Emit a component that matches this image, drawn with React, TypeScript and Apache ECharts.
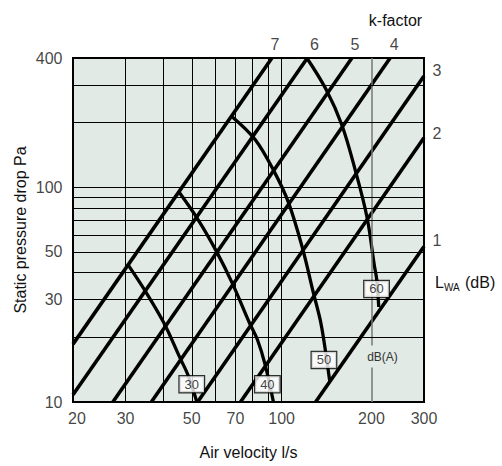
import { useEffect, useRef } from 'react';
import * as echarts from 'echarts';

// Axis ticks and grid values (log-log chart)
const xTickValues = [20, 30, 50, 70, 100, 200, 300];
const yTickValues = [10, 30, 50, 100, 400];
const xGridValues = [30, 40, 50, 60, 70, 80, 90, 100, 200];
const yGridValues = [20, 30, 40, 50, 60, 70, 80, 90, 100, 200, 300];

// k-factor lines: start and end points (air flow l/s, pressure drop Pa)
const kNames = ['1', '2', '3', '4', '5', '6', '7'];
const kStartFlow = [130, 72.8, 52.3, 36.6, 27.2, 20, 20];
const kStartDrop = [10, 10, 10, 10, 10, 10.8, 18.6];
const kEndFlow = [300, 300, 300, 231, 172, 122, 92.8];
const kEndDrop = [53, 170, 330, 400, 400, 400, 400];

// Sound power level curves, dB(A)
const soundLevels = [30, 40, 50, 60];
const curve30 = [[30.6, 43.5], [35.3, 32.1], [40.5, 23.1], [45.7, 16.0], [48.5, 13.4], [52, 10]];
const curve40 = [[45.5, 94.3], [52.6, 70.4], [60.3, 50.7], [68.4, 35.7], [78, 23.4], [83, 19.5], [88.1, 14.9], [93.9, 10]];
const curve50 = [[68.4, 212.7], [81.5, 167], [93.9, 120.2], [105.4, 85.1], [117.5, 52], [127.9, 32.1], [134.7, 24.1], [139, 18.8], [145, 12.5]];
const curve60 = [[121.5, 400], [141, 285.2], [159.3, 194.6], [176.5, 120.2], [193.2, 72.7], [204.4, 43.5], [208.4, 37], [211.6, 27.7]];
const soundCurves = [curve30, curve40, curve50, curve60];
const soundLabelFlow = [50, 89.6, 138.6, 208];
const soundLabelDrop = [12.1, 12.1, 15.7, 33.6];

const FONT = '"Liberation Sans", Arial, Helvetica, sans-serif';
const PLOT_BG = '#e1eae4';

export default function App() {
  const ref = useRef<HTMLDivElement>(null);

  useEffect(() => {
    document.body.style.margin = '0';
    if (!ref.current) return;
    const chart = echarts.init(ref.current, null, { renderer: 'svg' });

    const kLineSeries = kNames.map((name, i) => ({
      type: 'line',
      name: 'k' + name,
      data: [
        [kStartFlow[i], kStartDrop[i]],
        [kEndFlow[i], kEndDrop[i]],
      ],
      showSymbol: false,
      symbol: 'none',
      silent: true,
      z: 3,
      lineStyle: { color: '#000', width: 3.6, cap: 'butt' },
    }));

    const curveSeries = soundCurves.map((pts, i) => ({
      type: 'line',
      name: 'L' + soundLevels[i],
      data: pts,
      smooth: 0.35,
      showSymbol: false,
      symbol: 'none',
      silent: true,
      z: 3,
      lineStyle: { color: '#000', width: 3.3 },
    }));

    const rightOffsets = [-6, -4, -5];
    const topOffsets = [4, 3, 7, 3];
    const kLabelData = kNames.map((name, i) => {
      const isRight = i < 3;
      return {
        name,
        value: [kEndFlow[i], kEndDrop[i]],
        label: isRight
          ? { position: 'right', distance: 8, offset: [0, rightOffsets[i]] }
          : { position: 'top', distance: 5, offset: [topOffsets[i - 3], 0] },
      };
    });

    const option = {
      animation: false,
      grid: {
        left: 73,
        top: 58,
        width: 351,
        height: 344,
        show: true,
        backgroundColor: PLOT_BG,
        borderColor: '#000',
        borderWidth: 2,
      },
      xAxis: {
        type: 'log',
        logBase: 10,
        min: 20,
        max: 300,
        name: 'Air velocity l/s',
        nameLocation: 'middle',
        nameGap: 42,
        nameTextStyle: { fontSize: 16, color: '#111', fontFamily: FONT },
        axisLine: { show: false },
        axisTick: { show: false },
        axisLabel: { show: false },
        splitLine: { show: false },
      },
      yAxis: {
        type: 'log',
        logBase: 10,
        min: 10,
        max: 400,
        name: 'Static pressure drop Pa',
        nameLocation: 'middle',
        nameGap: 45,
        nameRotate: 90,
        nameTextStyle: { fontSize: 16, color: '#111', fontFamily: FONT },
        axisLine: { show: false },
        axisTick: { show: false },
        axisLabel: { show: false },
        splitLine: { show: false },
      },
      graphic: [
        {
          type: 'text',
          z: 10,
          x: 395.5,
          y: 20,
          style: { text: 'k-factor', fontSize: 16, fontFamily: FONT, fill: '#111', align: 'center', verticalAlign: 'middle' },
        },
        {
          type: 'text',
          z: 10,
          x: 435,
          y: 282.5,
          style: { text: 'L', fontSize: 16, fontFamily: FONT, fill: '#111', align: 'left', verticalAlign: 'middle' },
        },
        {
          type: 'text',
          z: 10,
          x: 444,
          y: 287.5,
          style: { text: 'WA', fontSize: 10, fontFamily: FONT, fill: '#111', align: 'left', verticalAlign: 'middle' },
        },
        {
          type: 'text',
          z: 10,
          x: 465,
          y: 282.5,
          style: { text: '(dB)', fontSize: 16, fontFamily: FONT, fill: '#111', align: 'left', verticalAlign: 'middle' },
        },
        {
          type: 'text',
          z: 10,
          x: 382.5,
          y: 356.5,
          style: {
            text: 'dB(A)',
            fontSize: 12,
            fontFamily: FONT,
            fill: '#333',
            align: 'center',
            verticalAlign: 'middle',
            backgroundColor: PLOT_BG,
            padding: [5, 1],
          },
        },
      ],
      series: [
        {
          type: 'line',
          name: 'grid',
          data: [],
          silent: true,
          z: 1,
          markLine: {
            silent: true,
            symbol: ['none', 'none'],
            label: { show: false },
            emphasis: { disabled: true },
            lineStyle: { color: '#000', width: 1, type: 'solid' },
            data: [
              ...xGridValues.map((v) =>
                v === 200 ? { xAxis: v, lineStyle: { color: '#777', width: 1.5 } } : { xAxis: v }
              ),
              ...yGridValues.map((v) => ({ yAxis: v })),
            ],
          },
        },
        ...kLineSeries,
        ...curveSeries,
        {
          type: 'scatter',
          name: 'x ticks',
          silent: true,
          clip: false,
          symbolSize: 1,
          itemStyle: { color: 'rgba(0,0,0,0)' },
          z: 5,
          data: xTickValues.map((v) => ({
            value: [v, 10],
            label: v === 20 ? { offset: [4, 0] } : undefined,
          })),
          label: {
            show: true,
            position: 'bottom',
            distance: 8,
            fontSize: 16,
            fontFamily: FONT,
            color: '#111',
            formatter: (p: any) => String(p.value[0]),
          },
        },
        {
          type: 'scatter',
          name: 'y ticks',
          silent: true,
          clip: false,
          symbolSize: 1,
          itemStyle: { color: 'rgba(0,0,0,0)' },
          z: 5,
          data: yTickValues.map((v) => [20, v]),
          label: {
            show: true,
            position: 'left',
            distance: 10,
            fontSize: 16,
            fontFamily: FONT,
            color: '#111',
            formatter: (p: any) => String(p.value[1]),
          },
        },
        {
          type: 'scatter',
          name: 'k labels',
          silent: true,
          clip: false,
          symbolSize: 1,
          itemStyle: { color: 'rgba(0,0,0,0)' },
          z: 5,
          data: kLabelData,
          label: {
            show: true,
            fontSize: 16,
            fontFamily: FONT,
            color: '#111',
            formatter: '{b}',
          },
        },
        {
          type: 'scatter',
          name: 'sound labels',
          silent: true,
          clip: false,
          symbolSize: 1,
          itemStyle: { color: 'rgba(0,0,0,0)' },
          z: 6,
          data: soundLevels.map((lv, i) => [soundLabelFlow[i], soundLabelDrop[i], lv]),
          label: {
            show: true,
            position: 'inside',
            fontSize: 13,
            fontFamily: FONT,
            color: '#111',
            backgroundColor: '#fff',
            borderColor: '#000',
            borderWidth: 1.2,
            padding: [2, 5, 1, 5],
            formatter: (p: any) => String(p.value[2]),
          },
        },
      ],
    };

    chart.setOption(option as any);
    return () => chart.dispose();
  }, []);

  return <div ref={ref} style={{ width: 502, height: 466 }} />;
}
